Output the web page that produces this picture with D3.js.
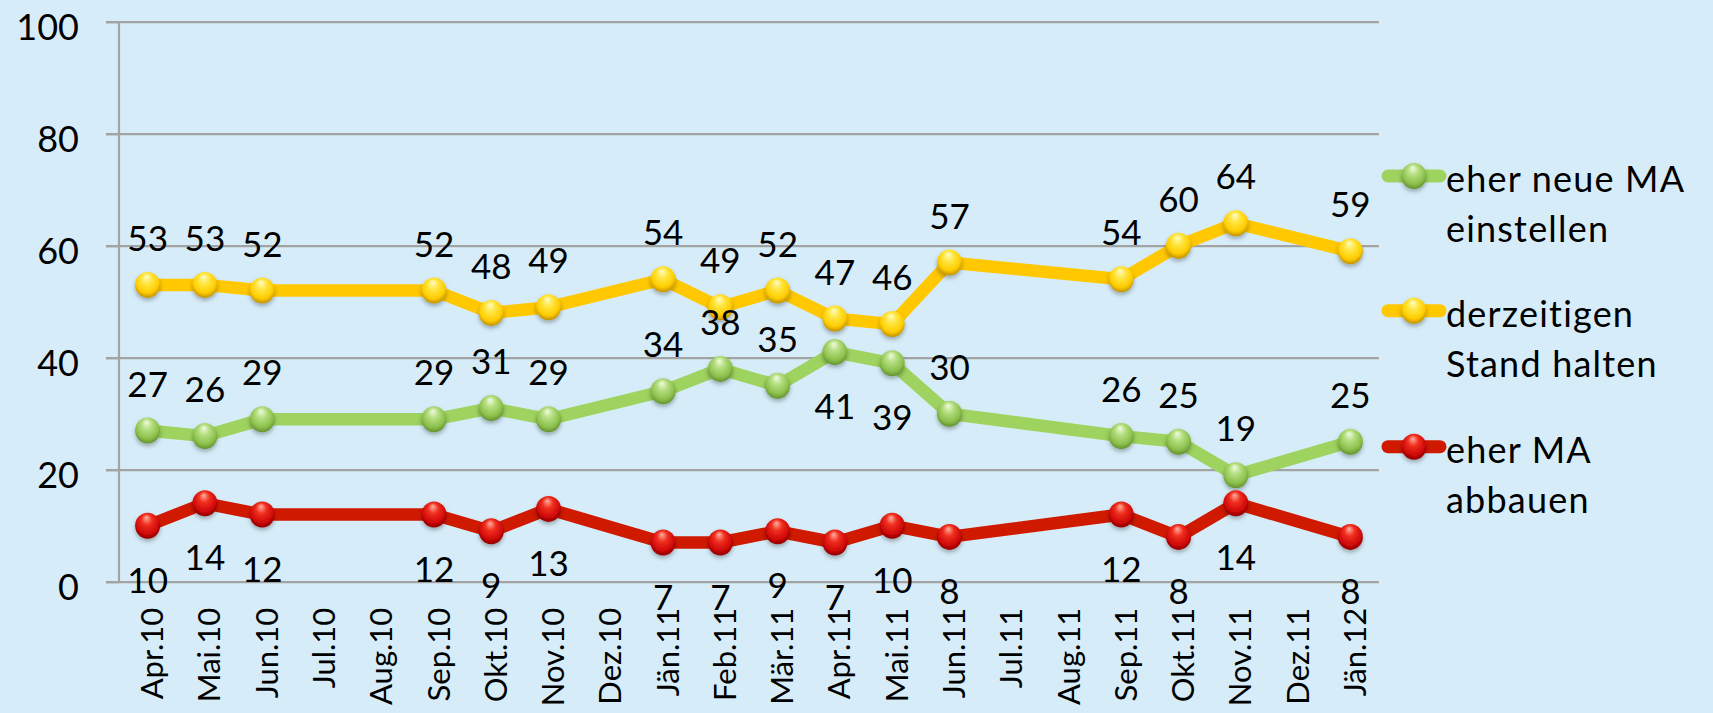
<!DOCTYPE html>
<html>
<head>
<meta charset="utf-8">
<script src="https://cdn.jsdelivr.net/npm/d3@7"></script>
<style>
  html, body { margin: 0; padding: 0; background: #D6EDF9; }
  svg { display: block; }
  text { font-family: Lato, "Open Sans", sans-serif; fill: #000; }
</style>
</head>
<body>
<svg id="chart" width="1713" height="713"></svg>
<script>
const categories = ["Apr.10","Mai.10","Jun.10","Jul.10","Aug.10","Sep.10","Okt.10","Nov.10","Dez.10",
  "Jän.11","Feb.11","Mär.11","Apr.11","Mai.11","Jun.11","Jul.11","Aug.11","Sep.11","Okt.11","Nov.11","Dez.11","Jän.12"];
const neueMA   = [27, 26, 29, null, null, 29, 31, 29, null, 34, 38, 35, 41, 39, 30, null, null, 26, 25, 19, null, 25];
const halten   = [53, 53, 52, null, null, 52, 48, 49, null, 54, 49, 52, 47, 46, 57, null, null, 54, 60, 64, null, 59];
const abbauen  = [10, 14, 12, null, null, 12,  9, 13, null,  7,  7,  9,  7, 10,  8, null, null, 12,  8, 14, null,  8];
// label placement per point: 1 = above, -1 = below
const neueMAPlace  = [1,1,1,1,1,1,1,1,1,1,1,1,-1,-1,1,1,1,1,1,1,1,1];
const haltenPlace  = categories.map(() => 1);
const abbauenPlace = categories.map(() => -1);
const seriesNames = [["eher neue MA","einstellen"],["derzeitigen","Stand halten"],["eher MA","abbauen"]];
const yTicks = [0, 20, 40, 60, 80, 100];

const series = [
  {key:"green", name: seriesNames[0], values: neueMA, place: neueMAPlace, color:"#9ED35F",
   grad:["#F2FBDF","#B4DE80","#8CC04C","#5E8C2C"]},
  {key:"yellow", name: seriesNames[1], values: halten, place: haltenPlace, color:"#FFC800",
   grad:["#FFFBC8","#FFE640","#FFCC00","#B88A00"]},
  {key:"red", name: seriesNames[2], values: abbauen, place: abbauenPlace, color:"#D01A00",
   grad:["#FFB0A0","#F03020","#D00808","#880000"]}
];

const svg = d3.select("#chart");
const W = 1713, H = 713;
svg.append("rect").attr("width", W).attr("height", H).attr("fill", "#D6EDF9");

const x0 = 119, x1 = 1379, yTop = 21.7, yBot = 581.7;
const x = d3.scaleBand().domain(categories).range([x0, x1]);
const y = d3.scaleLinear().domain([0, 100]).range([yBot, yTop]);
const cx = c => x(c) + x.bandwidth() / 2;

const defs = svg.append("defs");
series.forEach(s => {
  const g = defs.append("radialGradient").attr("id", "g-" + s.key)
    .attr("cx", "50%").attr("cy", "42%").attr("r", "60%")
    .attr("fx", "45%").attr("fy", "18%");
  g.append("stop").attr("offset", "0%").attr("stop-color", s.grad[0]);
  g.append("stop").attr("offset", "35%").attr("stop-color", s.grad[1]);
  g.append("stop").attr("offset", "75%").attr("stop-color", s.grad[2]);
  g.append("stop").attr("offset", "100%").attr("stop-color", s.grad[3]);
});
const f = defs.append("filter").attr("id", "shadow").attr("x", "-50%").attr("y", "-50%").attr("width", "200%").attr("height", "200%");
f.append("feDropShadow").attr("dx", 0).attr("dy", 2.5).attr("stdDeviation", 2).attr("flood-color", "#000").attr("flood-opacity", 0.3);

// gridlines
const grid = svg.append("g").attr("transform", `translate(${x1},0)`)
  .call(d3.axisLeft(y).tickValues(yTicks).tickSize(x1 - x0 + 13).tickFormat(""));
grid.select(".domain").remove();
grid.selectAll("line").attr("stroke", "#A3A3A3").attr("stroke-width", 2.2);

// y axis
const yAxis = svg.append("g").attr("transform", `translate(${x0},0)`)
  .call(d3.axisLeft(y).tickValues(yTicks).tickSize(13).tickPadding(27));
yAxis.select(".domain").attr("stroke", "#A3A3A3").attr("stroke-width", 2.2).attr("d", `M0,${yTop}V${yBot}`);
yAxis.selectAll("line").attr("stroke", "#A3A3A3").attr("stroke-width", 2.2);
yAxis.selectAll("text").attr("font-size", 36).attr("font-family", "Lato").attr("fill", "#000")
  .attr("x", -40).attr("dy", "0.49em");

// x axis
const xAxis = svg.append("g").attr("transform", `translate(0,${yBot})`)
  .call(d3.axisBottom(x).tickSize(0));
xAxis.select(".domain").remove();
xAxis.selectAll("text").attr("font-size", 31).attr("font-family", "Lato").attr("fill", "#000")
  .attr("transform", "rotate(-90)").attr("text-anchor", "end")
  .attr("x", -26).attr("y", 0).attr("dy", "15.5px");

// series lines
const line = d3.line().x(d => cx(d.c)).y(d => y(d.v));
series.forEach(s => {
  const pts = categories.map((c, i) => ({c, v: s.values[i], p: s.place[i]})).filter(d => d.v != null);
  s.pts = pts;
  svg.append("path").datum(pts).attr("d", line)
    .attr("fill", "none").attr("stroke", s.color).attr("stroke-width", 12.5)
    .attr("stroke-linejoin", "round");
});
series.forEach(s => {
  svg.append("g").selectAll("ellipse").data(s.pts).join("ellipse")
    .attr("cx", d => cx(d.c)).attr("cy", d => y(d.v))
    .attr("rx", 12.5).attr("ry", 13).attr("fill", `url(#g-${s.key})`)
    .attr("filter", "url(#shadow)");
});
// data labels
series.forEach(s => {
  svg.append("g").selectAll("text").data(s.pts).join("text")
    .attr("x", d => cx(d.c))
    .attr("y", d => y(d.v) + (d.p > 0 ? -34 : 67))
    .attr("text-anchor", "middle").attr("font-size", 35)
    .text(d => d.v);
});

// legend
const legY = [176, 310.7, 446.7];
series.forEach((s, i) => {
  const g = svg.append("g").attr("transform", `translate(0,${legY[i]})`);
  g.append("line").attr("x1", 1388).attr("x2", 1440).attr("y1", 0).attr("y2", 0)
    .attr("stroke", s.color).attr("stroke-width", 13).attr("stroke-linecap", "round");
  g.append("ellipse").attr("cx", 1414).attr("cy", 0).attr("rx", 12.5).attr("ry", 13)
    .attr("fill", `url(#g-${s.key})`).attr("filter", "url(#shadow)");
  s.name.forEach((t, j) => {
    g.append("text").attr("x", 1446).attr("y", 16 + j * 50)
      .attr("font-size", 36).attr("letter-spacing", 1.2).text(t);
  });
});
</script>
</body>
</html>
